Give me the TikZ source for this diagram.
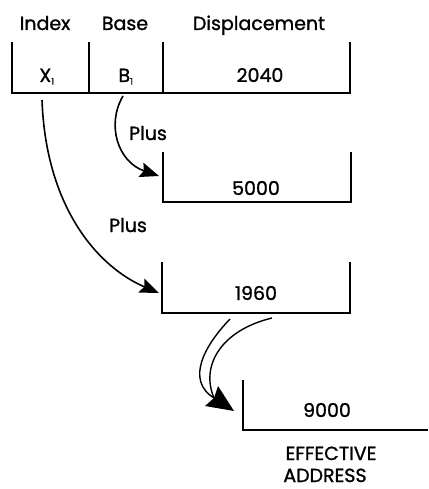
\documentclass[tikz,border=0pt]{standalone}
\usepackage{fontspec}
\setmainfont{Poppins}[FakeBold=1.2]
\usetikzlibrary{arrows.meta}
\begin{document}
\begin{tikzpicture}[x=1pt,y=-1pt,
  reg/.style={line width=1.8pt},
  lbl/.style={font=\fontsize{19}{21}\selectfont,inner sep=0pt,anchor=base},
  arr/.style={line width=1.6pt,-{Stealth[length=19pt,width=15pt,inset=3pt]}},
  dbl/.style={line width=1.4pt}]
\useasboundingbox (0,0) rectangle (428,489);
% top register
\draw[reg] (12,42) -- (12,93) -- (350,93) -- (350,42);
\draw[reg] (89,42) -- (89,93);
\draw[reg] (163,42) -- (163,93);
\node[lbl] (index) at (45,30) {Index};
\node[lbl] (base) at (125,30) {Base};
\node[lbl] (disp) at (259,30) {Displacement};
\node[lbl] (x1) at (47,82) {X\textsubscript{\fontsize{9}{9}\selectfont 1}};
\node[lbl] (b1) at (126,82) {B\textsubscript{\fontsize{9}{9}\selectfont 1}};
\node[lbl] (d) at (260,82) {2040};
% second
\draw[reg] (163,152) -- (163,202) -- (351,202) -- (351,152);
\node[lbl] (v5000) at (256,195) {5000};
% third
\draw[reg] (162,262) -- (162,313) -- (350,313) -- (350,262);
\node[lbl] (v1960) at (256,300) {1960};
% fourth
\draw[reg] (243,380) -- (243,430) -- (428,430);
\node[lbl] (v9000) at (327,417) {9000};
\node[lbl] (eff) at (331,460) {EFFECTIVE};
\node[lbl] (addr) at (325,482) {ADDRESS};
% plus labels
\node[lbl] (plus1) at (148,140) {Plus};
\node[lbl] (plus2) at (128,232) {Plus};
% coordinates
\coordinate (s1) at (123,96);
\coordinate (t1) at (159,176);
\coordinate (s2) at (42,100);
\coordinate (t2) at (159,293);
\coordinate (s3a) at (230,319);
\coordinate (s3b) at (272,318);
\coordinate (m3) at (214,398);
\coordinate (t3) at (234,411);
\draw[arr] (s1) .. controls (106,125) and (118,162) .. (t1);
\draw[arr] (s2) .. controls (46,210) and (100,268) .. (t2);
\draw[dbl] (s3a) .. controls (205,345) and (185,380) .. (m3);
\draw[dbl] (s3b) .. controls (222,330) and (200,365) .. (m3);
\fill (t3) -- (205,406) -- (m3) -- (218,386) -- cycle;
\end{tikzpicture}
\end{document}
